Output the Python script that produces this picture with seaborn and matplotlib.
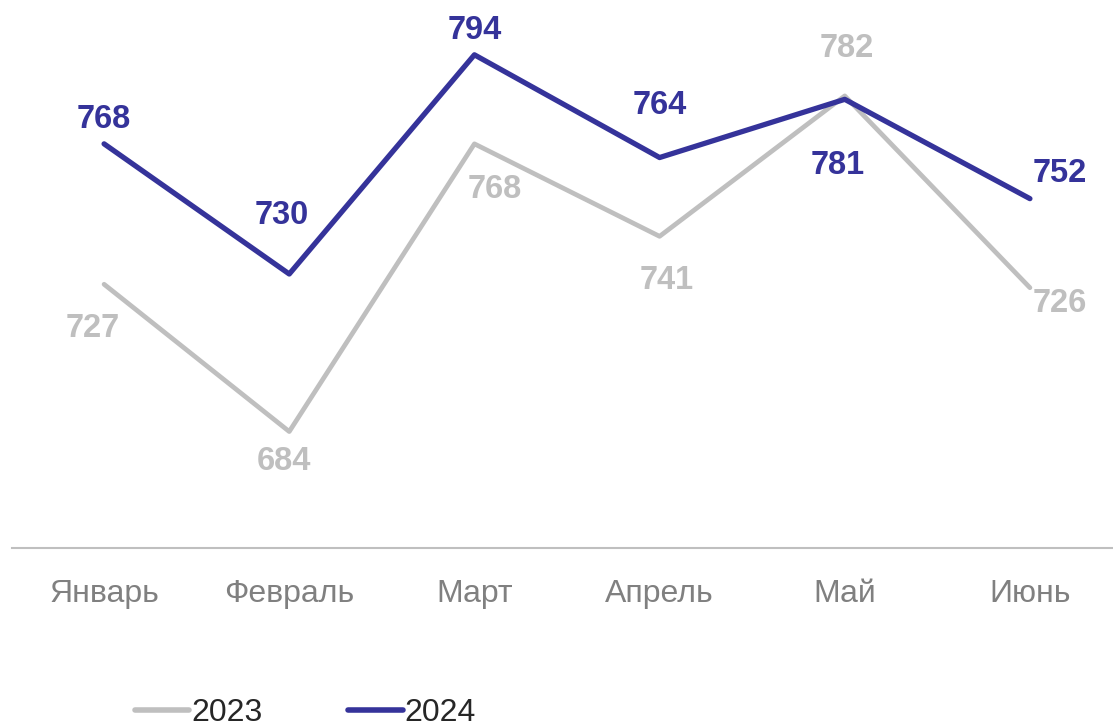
import pandas as pd
import matplotlib
matplotlib.use("Agg")
import matplotlib.pyplot as plt
import seaborn as sns

# Данные
months = ["Январь", "Февраль", "Март", "Апрель", "Май", "Июнь"]
values_2023 = [727, 684, 768, 741, 782, 726]
values_2024 = [768, 730, 794, 764, 781, 752]

# Смещения подписей (в пикселях)
offsets_2023 = [(-11, -44), (-5, -30), (20, -46), (7, -44), (2, 47), (30, -16)]
offsets_2024 = [(0, 24), (-7, 58), (0, 24), (0, 52), (-7, -66), (30, 25)]

color_2023 = "#BFBFBF"
color_2024 = "#35339A"

df = pd.DataFrame({
    "Месяц": months * 2,
    "Значение": values_2023 + values_2024,
    "Год": ["2023"] * 6 + ["2024"] * 6,
})

sns.set_style("white")
plt.rcParams["font.family"] = ["Liberation Sans", "DejaVu Sans"]

fig = plt.figure(figsize=(11.13, 7.26), dpi=100)
ax = fig.add_axes([11.5 / 1113, 178 / 726, 1111 / 1113, 548 / 726])

sns.lineplot(data=df, x="Месяц", y="Значение", hue="Год", sort=False,
             palette={"2023": color_2023, "2024": color_2024},
             linewidth=3.8, ax=ax, legend=False)
ax.lines[0].set_solid_capstyle("round")
ax.lines[1].set_solid_capstyle("round")
ax.lines[0].set_linewidth(3.4)

ax.set_xlim(-0.5, 5.5)
ax.set_ylim(650, 810)
ax.set_xlabel("")
ax.set_ylabel("")
ax.set_yticks([])
ax.tick_params(axis="x", length=0, pad=22, labelsize=23, labelcolor="#808080")

for s in ["top", "right", "left"]:
    ax.spines[s].set_visible(False)
ax.spines["bottom"].set_color("#BFBFBF")
ax.spines["bottom"].set_linewidth(1.5)

# Подписи значений
for i, v in enumerate(values_2023):
    dx, dy = offsets_2023[i]
    ax.annotate(str(v), (i, v), xytext=(dx, dy), textcoords="offset pixels",
                ha="center", va="center", fontsize=23.5, fontweight="bold",
                color=color_2023)
for i, v in enumerate(values_2024):
    dx, dy = offsets_2024[i]
    ax.annotate(str(v), (i, v), xytext=(dx, dy), textcoords="offset pixels",
                ha="center", va="center", fontsize=23.5, fontweight="bold",
                color=color_2024)

# Легенда
handles = [plt.Line2D([], [], color=color_2023, linewidth=4, solid_capstyle="round"),
           plt.Line2D([], [], color=color_2024, linewidth=4, solid_capstyle="round")]
fig.legend(handles, ["2023", "2024"], loc="center left",
           bbox_to_anchor=(135 / 1113, 1 - 713 / 726), ncol=2, frameon=False,
           fontsize=23, handlelength=1.7, handletextpad=0.05, columnspacing=2.7,
           borderpad=0, borderaxespad=0, labelcolor="#262626")

fig.savefig("out.png", dpi=100)
